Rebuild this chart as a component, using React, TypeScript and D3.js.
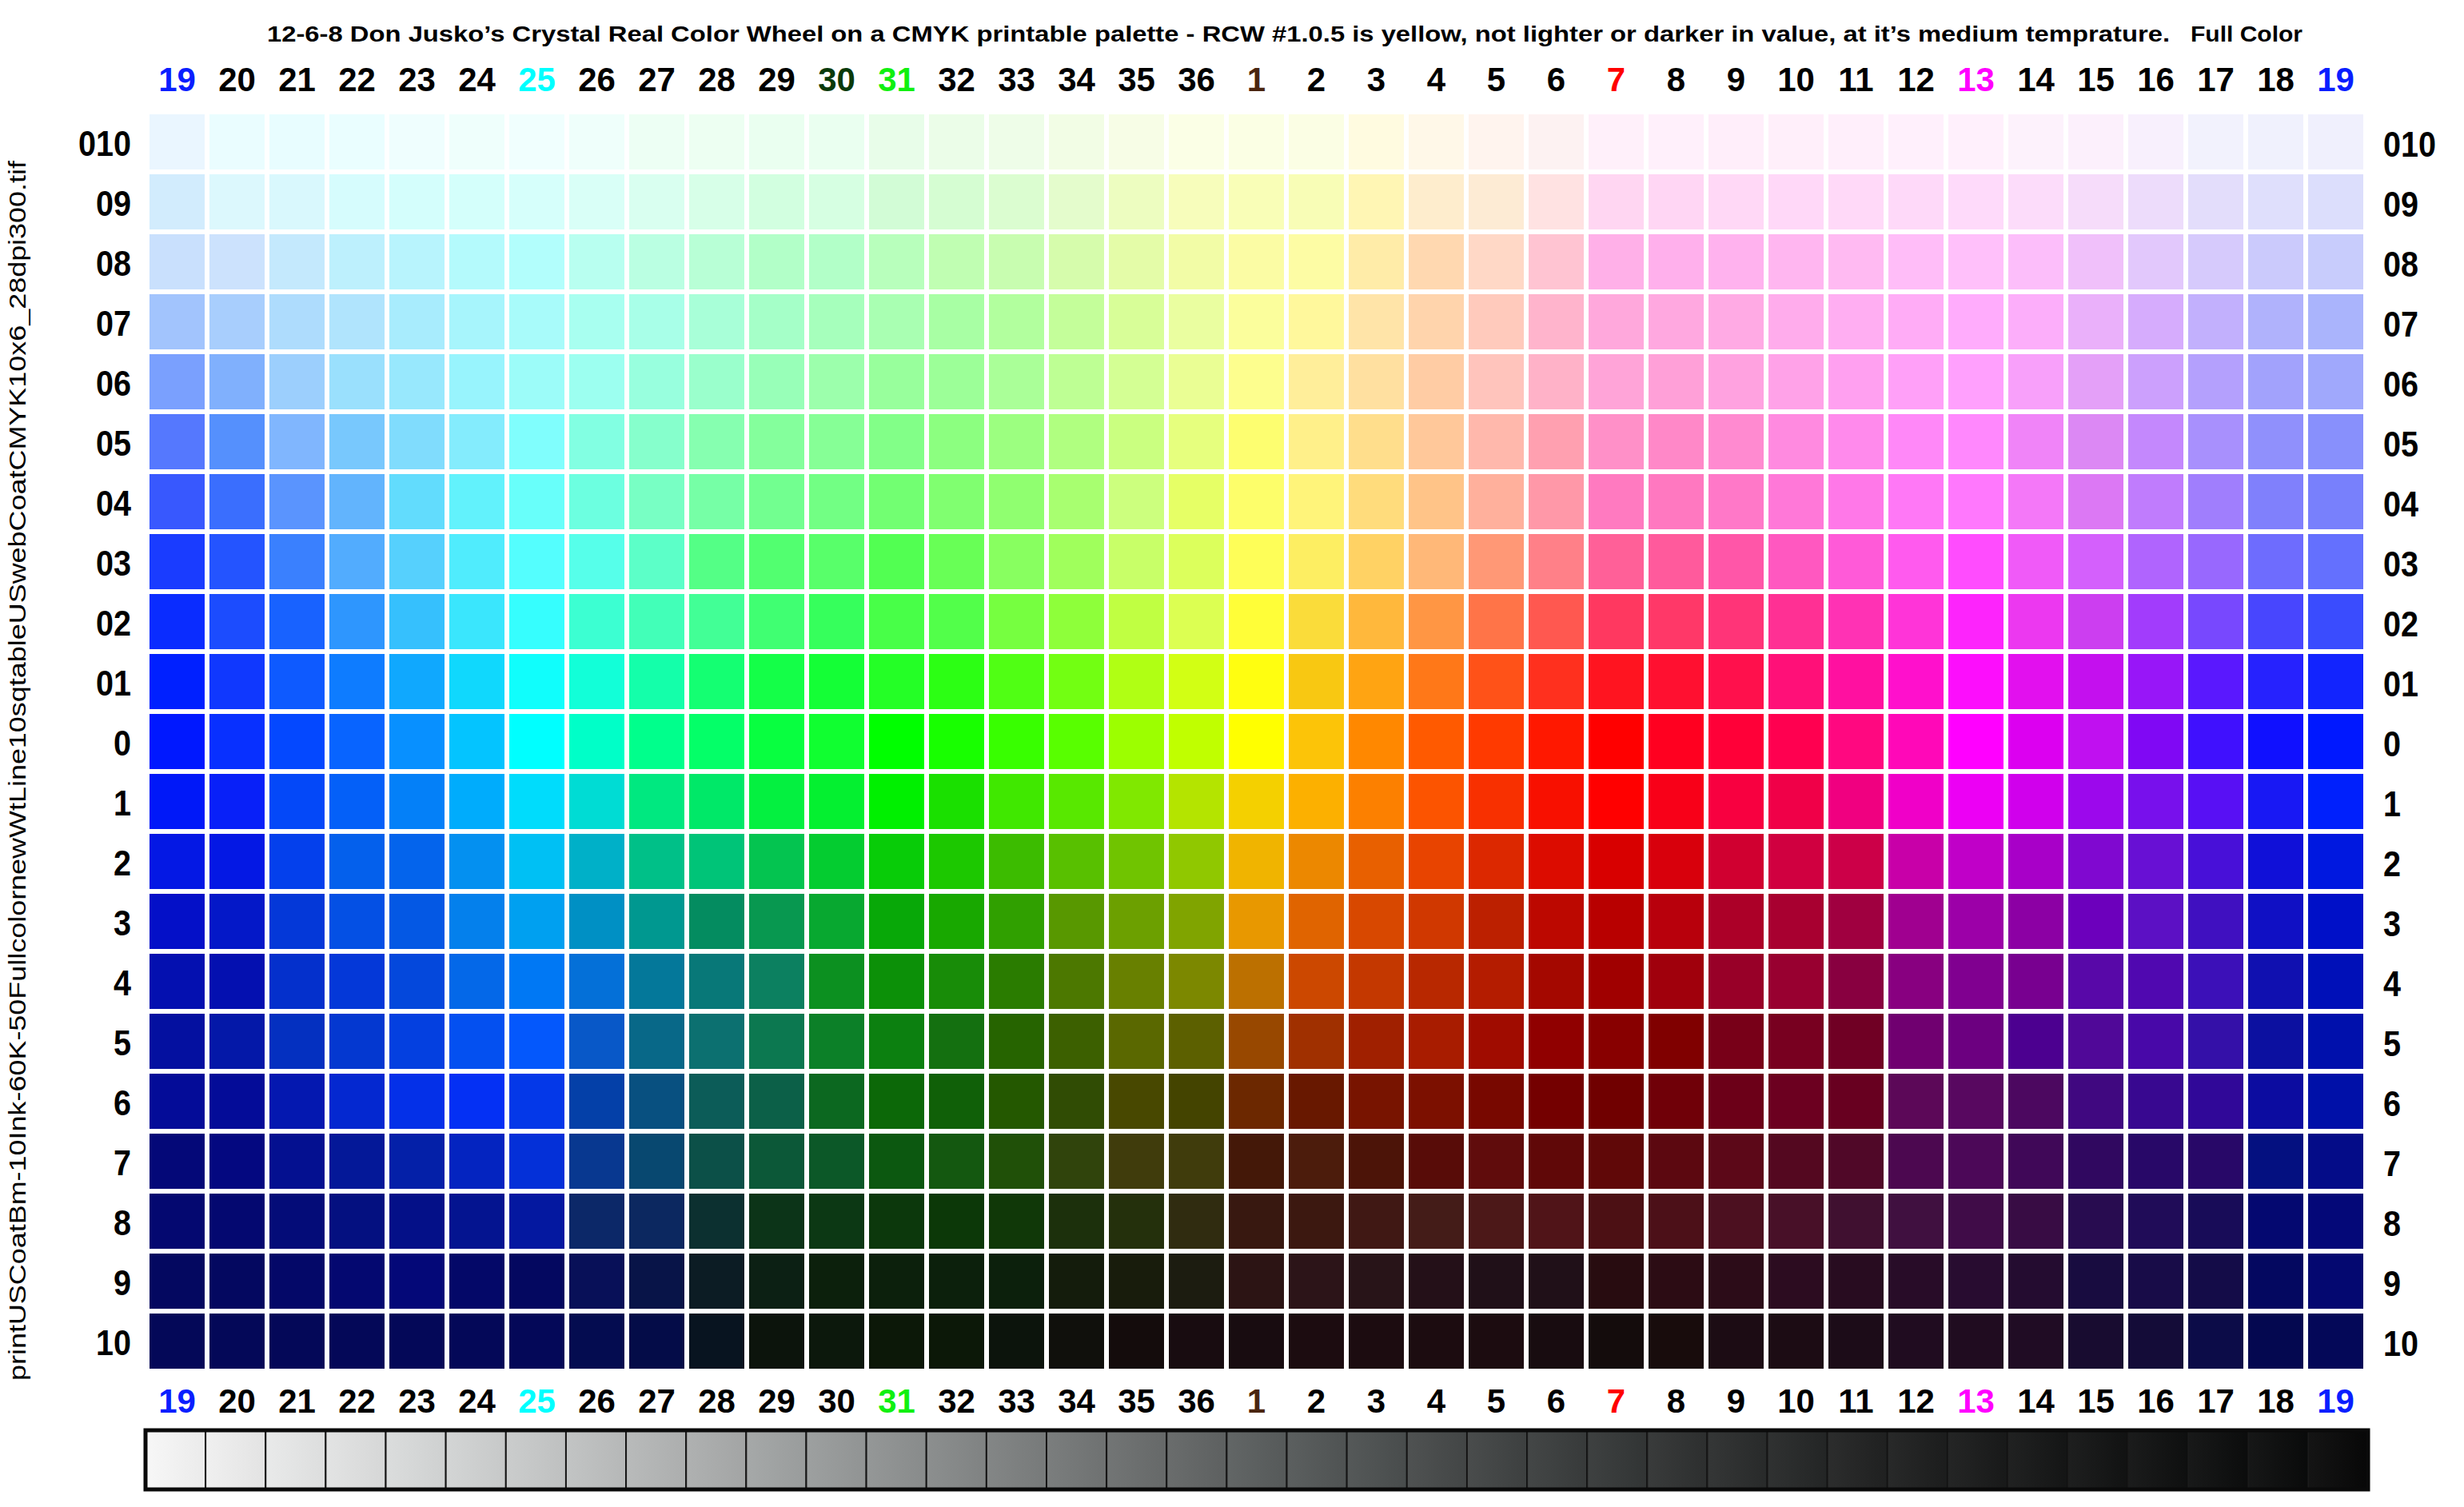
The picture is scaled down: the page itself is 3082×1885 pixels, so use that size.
import * as d3 from "d3";

// column labels (hue numbers of the wheel), left to right
const columnLabels = [
  "19", "20", "21", "22", "23", "24", "25", "26", "27", "28", "29", "30", "31", "32", "33", "34", "35", "36",
  "1", "2", "3", "4", "5", "6", "7", "8", "9", "10", "11", "12", "13", "14", "15", "16", "17", "18", "19",
];

const topLabelColors = [
  "#0a1eff", "#000", "#000", "#000", "#000", "#000", "#00ffff", "#000", "#000", "#000", "#000", "#0a3a0a", "#10f010", "#000", "#000", "#000", "#000", "#000",
  "#4a2510", "#000", "#000", "#000", "#000", "#000", "#ff0000", "#000", "#000", "#000", "#000", "#000", "#ff00ff", "#000", "#000", "#000", "#000", "#000", "#0a1eff",
];

const bottomLabelColors = [
  "#0a1eff", "#000", "#000", "#000", "#000", "#000", "#00ffff", "#000", "#000", "#000", "#000", "#000", "#10f010", "#000", "#000", "#000", "#000", "#000",
  "#4a2510", "#000", "#000", "#000", "#000", "#000", "#ff0000", "#000", "#000", "#000", "#000", "#000", "#ff00ff", "#000", "#000", "#000", "#000", "#000", "#0a1eff",
];

// row labels, lightest at the top, darkest at the bottom
const rowLabels = ["010", "09", "08", "07", "06", "05", "04", "03", "02", "01", "0", "1", "2", "3", "4", "5", "6", "7", "8", "9", "10"];

// cell colours per row (37 columns each)
const row010 = ["#eaf6ff", "#eafdff", "#e8fdff", "#eafeff", "#effefe", "#effffc", "#f0fffe", "#effffb", "#edfff4", "#edfff2", "#eafff0", "#eafff0", "#e8fde9", "#ebfde8", "#eefde8", "#f2fde5", "#f7fde6", "#fbffe6", "#fbffe4", "#fbfee4", "#fffbe0", "#fff8e8", "#fff4ee", "#fdf2f2", "#fff0fa", "#fff0fb", "#ffeefa", "#ffeffa", "#ffeffb", "#fff0fc", "#fff0fc", "#fdf2fc", "#fcf0fc", "#f8f0fd", "#f2f2fd", "#f0f1fd", "#f0f0fd"];
const row09 = ["#d2ecfd", "#dcf8fd", "#d9f8fd", "#d6fcfd", "#d4fefc", "#d4fffb", "#d6fffb", "#d9fff7", "#d9fff0", "#d7ffe8", "#d2ffe0", "#d6ffe2", "#d2fcd6", "#d5fdd2", "#dbfdd0", "#e4fccc", "#edfdc0", "#f7fdbb", "#f9feb7", "#f8fdb6", "#fff6b4", "#feedcd", "#fdebd4", "#ffe2e2", "#ffd6f2", "#ffd6f4", "#ffd8f6", "#ffd8f8", "#ffd9f8", "#fed9f9", "#fedafa", "#fcdcfa", "#f6dcfa", "#eddcfb", "#e3ddfb", "#dfdffc", "#dcdefc"];
const row08 = ["#c9e0fd", "#cce2fd", "#c4e9fd", "#bdf0fd", "#b8f4fd", "#b4fafc", "#b2fefc", "#b8fff0", "#baffe2", "#b8ffd6", "#b2ffc8", "#b2ffc8", "#b8ffbc", "#c0feb2", "#c8fdb0", "#d6fcac", "#e4fca8", "#f2fca6", "#fbfca4", "#fdfca4", "#ffeca8", "#ffd8b0", "#ffd8c6", "#ffc4d2", "#ffb0e8", "#ffb0ec", "#ffb2ee", "#ffb6f0", "#ffbaf2", "#ffbdf8", "#ffc0fa", "#fcbefa", "#f0c0fa", "#e2c8fc", "#d6cafc", "#cbcafc", "#c8ccfc"];
const row07 = ["#a2c4fd", "#a8cefd", "#aedcfd", "#b0e4fd", "#a8ecfd", "#a7f5fc", "#a8fbfa", "#a8fff0", "#a8ffe8", "#a8ffd8", "#a5ffc8", "#a6ffbc", "#a9ffb2", "#a8ffa4", "#b2ff9e", "#c4fe9a", "#d8fe98", "#eafea0", "#fbfe9c", "#fff89c", "#ffe4a8", "#ffd4ac", "#ffcabc", "#ffb4cc", "#ffa8dc", "#ffa8e0", "#ffaae4", "#ffacec", "#ffaef2", "#ffacf6", "#ffacfc", "#fcaefa", "#eab0fa", "#d6acfd", "#c2b0fd", "#b0b2fc", "#aab4fc"];
const row06 = ["#7aa0fe", "#80b0fd", "#9ccffd", "#9ae0fd", "#98e8fd", "#98f4fd", "#9cfcf9", "#9cfff0", "#98ffde", "#9affcc", "#98ffb8", "#9cffac", "#98ff9c", "#9cff98", "#aaff98", "#beff94", "#d4ff94", "#eafe94", "#fdfe8e", "#ffee9a", "#ffe0a0", "#ffcca4", "#ffc4bc", "#ffb2c8", "#ffa4d8", "#ffa0d8", "#ffa2e0", "#ffa2e8", "#ffa0f0", "#ffa0f8", "#ffa0fd", "#f8a0fa", "#e4a0f8", "#cca0fd", "#b4a0fd", "#a2a2fc", "#a0a8fc"];
const row05 = ["#5578fe", "#5590fd", "#80b6fe", "#78c8fd", "#80dcfd", "#84ecfd", "#80fefd", "#82ffe2", "#86ffcc", "#86ffb0", "#84ff9c", "#86ff96", "#82ff88", "#8cff80", "#9cff80", "#b0ff80", "#caff80", "#e6ff7e", "#fdfe70", "#fff08a", "#ffde8c", "#ffc89a", "#ffb8ac", "#ffa0b0", "#ff90c8", "#ff88c8", "#ff8ad0", "#ff8ae0", "#ff8aec", "#ff88f8", "#ff88fd", "#f084f8", "#dc88f4", "#c488fd", "#a890fd", "#9090fc", "#8890fc"];
const row04 = ["#3858fe", "#3a6efe", "#5a94fe", "#62b4fd", "#62dcfd", "#62f2fc", "#68fffa", "#6cffe0", "#78ffc4", "#76ffa6", "#72ff90", "#72ff84", "#72ff72", "#80ff70", "#90ff70", "#a8ff70", "#ccff7e", "#e6ff66", "#fdfe6a", "#fff47a", "#ffdc7c", "#ffc488", "#ffb09c", "#ff98a8", "#ff7ac0", "#ff78c0", "#ff78c8", "#ff78d8", "#ff78e8", "#ff78f6", "#ff78fd", "#f478f8", "#dc78f4", "#c07cfd", "#a07efd", "#8080fc", "#7880fc"];
const row03 = ["#1a3cff", "#2454ff", "#3a80fe", "#52acfe", "#56d0fd", "#50ecfd", "#54fefe", "#56ffea", "#5cffc8", "#54ff86", "#52ff70", "#58ff6a", "#52ff52", "#68ff56", "#88ff60", "#a0ff5c", "#c8ff68", "#dcff5c", "#fefe58", "#fdee62", "#ffd264", "#ffb878", "#ff9876", "#ff8088", "#ff6098", "#ff5a9c", "#ff56a8", "#ff58c0", "#ff5ad8", "#ff5aee", "#ff4cfe", "#f05af8", "#d460fc", "#b064fe", "#9868fe", "#6e6cfe", "#6470fe"];
const row02 = ["#0a2cff", "#1c4cfe", "#1862ff", "#2e96fe", "#36c0fd", "#3ae6fd", "#36fefe", "#3cffd2", "#42ffb8", "#42ff96", "#40ff72", "#36ff5c", "#48ff48", "#52ff4a", "#76ff40", "#8eff3a", "#c0ff42", "#dcff52", "#fffe38", "#fadc3a", "#ffb83c", "#ff9644", "#ff7448", "#ff5850", "#ff3860", "#ff3868", "#ff3478", "#ff3094", "#ff32b4", "#ff34d8", "#fd24fc", "#ec38f0", "#cc3ef0", "#a23cfc", "#7848fe", "#4846fe", "#3a4cfe"];
const row01 = ["#0020ff", "#1038fe", "#0e5aff", "#0e7cff", "#10a8fe", "#10d8fd", "#10fefc", "#12ffd8", "#14ffaa", "#14ff72", "#14ff48", "#14ff36", "#24ff26", "#2cff14", "#50ff14", "#72ff12", "#b0ff14", "#d2ff14", "#fffe10", "#f8c812", "#ffa412", "#ff7818", "#ff5218", "#ff301e", "#ff1420", "#ff1030", "#ff104c", "#ff1078", "#ff10a0", "#ff10cc", "#fc0efc", "#e210ee", "#c410ee", "#9816f8", "#5a18fe", "#2622fe", "#1224fe"];
const row0 = ["#0018ff", "#0830ff", "#0448ff", "#0864ff", "#0890ff", "#04c4ff", "#00ffff", "#00ffc8", "#00ff8c", "#04ff68", "#08ff40", "#10ff30", "#00ff00", "#18ff00", "#38ff00", "#58ff00", "#9cff00", "#c0ff00", "#ffff00", "#fcc408", "#ff8800", "#ff5a00", "#ff3a00", "#ff1800", "#ff0000", "#ff0020", "#ff0038", "#ff0050", "#ff0880", "#ff08b8", "#ff00ff", "#dc00f0", "#c010f0", "#8008f4", "#4010fe", "#1010ff", "#0018ff"];
const row1 = ["#0018f8", "#0820f8", "#0448f8", "#0460f8", "#0480f8", "#00acfc", "#00dcfc", "#00dcd4", "#00e880", "#00e868", "#04f040", "#04f030", "#00f000", "#1ae000", "#40e800", "#58e800", "#80e800", "#b4e400", "#f4d000", "#fcb000", "#fc8000", "#fc5400", "#f83000", "#f81000", "#ff0000", "#f80018", "#f80040", "#f00048", "#f00080", "#f000c8", "#ec00f4", "#d000ec", "#9c08ec", "#7810ec", "#5810f4", "#1818f4", "#0020fc"];
const row2 = ["#0418e4", "#0418e4", "#0440ec", "#0460ec", "#0464ec", "#0490f0", "#00c0f4", "#00b0c8", "#00c088", "#00c478", "#04c450", "#04cc30", "#08cc08", "#1cc800", "#3cbc00", "#58c000", "#70c400", "#90c800", "#f0b400", "#ec8800", "#e86000", "#e84400", "#dc2800", "#dc0c00", "#d80000", "#d8000c", "#d00030", "#d00040", "#cc0048", "#c800a8", "#c000c8", "#a800c8", "#8008d0", "#6810d4", "#4810d8", "#1010d8", "#0018e0"];
const row3 = ["#0410c8", "#0418c8", "#0438d8", "#0450e4", "#0458e4", "#0480ec", "#00a0f0", "#0090c4", "#009890", "#048c60", "#089850", "#08a830", "#08a808", "#18a800", "#30a000", "#589800", "#6ca000", "#80a400", "#e89800", "#e06400", "#d84800", "#d03800", "#bc2000", "#bc0800", "#b80000", "#b8000c", "#ac0028", "#a80030", "#a00040", "#a00090", "#9c00a8", "#8c00a4", "#6c00bc", "#5c10c4", "#4010c0", "#1010c4", "#0010c8"];
const row4 = ["#0410b0", "#0410b0", "#0430cc", "#0438d8", "#0448dc", "#0468e8", "#0078f4", "#0470d8", "#04789a", "#087878", "#0c8060", "#0c9020", "#0c9008", "#188c08", "#2a7c00", "#4c7800", "#688000", "#7c8800", "#bc7000", "#cc4800", "#c43800", "#b82800", "#b41c00", "#a40800", "#a00000", "#a0000c", "#980028", "#980030", "#880040", "#880080", "#800090", "#780090", "#5808a8", "#5008b0", "#3c10b8", "#1010b0", "#0010b8"];
const row5 = ["#0410a0", "#0418a8", "#0430c0", "#0438d0", "#0440e0", "#0450f0", "#0458fc", "#0858c8", "#086888", "#0c7070", "#0c7850", "#0c8028", "#0c8010", "#147010", "#266400", "#3c6000", "#5a6800", "#5c6000", "#984800", "#a03000", "#a02000", "#a81c00", "#a00c00", "#900000", "#880000", "#800000", "#780018", "#780020", "#700024", "#700070", "#6c0080", "#4c0090", "#500898", "#4808a8", "#3410a8", "#0c10a0", "#0010ac"];
const row6 = ["#040c98", "#040c98", "#0418b0", "#0428d0", "#0430e8", "#0430f4", "#0438e8", "#0440a8", "#085080", "#0c5c58", "#0c6048", "#0c6820", "#0c6808", "#106008", "#245800", "#304c04", "#484800", "#444400", "#6c2800", "#681800", "#781400", "#7c1000", "#780800", "#740000", "#700000", "#700008", "#6c0018", "#6c0020", "#680020", "#5c0858", "#580860", "#4c0860", "#400880", "#380890", "#300898", "#0c0ca0", "#0010a8"];
const row7 = ["#040878", "#040880", "#041090", "#041898", "#0420a8", "#0424c0", "#0430d8", "#083890", "#084870", "#0c5048", "#0c5838", "#0c5828", "#0c5810", "#145810", "#205008", "#30440c", "#403c0c", "#403c0c", "#441808", "#4c1c0c", "#4c1408", "#580c08", "#600c0c", "#600808", "#600808", "#5c0810", "#5c0818", "#540820", "#500828", "#4c0850", "#4c0858", "#400858", "#300860", "#280868", "#280868", "#041080", "#040c88"];
const row8 = ["#040870", "#040870", "#040c78", "#041080", "#041088", "#041490", "#0418a0", "#0c2868", "#0c2860", "#0c3030", "#0c3418", "#0c3814", "#0c380c", "#0c3808", "#103808", "#1c300c", "#24300c", "#302c10", "#381810", "#3c1810", "#401814", "#441c18", "#4c1818", "#501418", "#4c1014", "#4c1018", "#4c1020", "#481028", "#401030", "#401040", "#400c48", "#380c44", "#280c50", "#200c58", "#180c58", "#040870", "#040878"];
const row9 = ["#040860", "#040860", "#040868", "#040870", "#040878", "#040868", "#040860", "#081058", "#081448", "#0c1c24", "#0c2014", "#0c200c", "#0c200c", "#0c200c", "#0c200c", "#141c0c", "#181c0c", "#1c1c10", "#2c1414", "#2c1418", "#281418", "#241018", "#201018", "#201018", "#280c10", "#2c0c14", "#2c0c18", "#2c0c20", "#280c20", "#280c28", "#280c30", "#240c30", "#180c40", "#180c48", "#140c48", "#040860", "#040870"];
const row10 = ["#040858", "#040858", "#040858", "#040858", "#040858", "#040858", "#040858", "#040c50", "#040c48", "#081420", "#0c140c", "#0c180c", "#0c1808", "#0c1808", "#0c140c", "#10100c", "#140c0c", "#180c10", "#180c10", "#1c0c10", "#1c0c10", "#1c0c10", "#1c0c10", "#180c10", "#140c0c", "#180c0c", "#1c0c14", "#1c0c14", "#1c0c18", "#200c20", "#200c20", "#200c24", "#180c30", "#140c38", "#0c0c48", "#040850", "#040858"];

const rowColors = [row010, row09, row08, row07, row06, row05, row04, row03, row02, row01, row0, row1, row2, row3, row4, row5, row6, row7, row8, row9, row10];

// grey value scale along the bottom (37 steps, white to black)
const greySteps = [
  "#f7f7f7", "#efefef", "#e8e9e9", "#e1e2e2", "#d9dbdb", "#d1d3d3", "#c8caca", "#bfc1c1", "#b5b7b7", "#abadad",
  "#a1a4a4", "#989b9b", "#8f9292", "#868989", "#7d8080", "#747777", "#6b6e6e", "#626565", "#5a5e5e", "#535757",
  "#4c5050", "#464949", "#404343", "#3a3d3d", "#343737", "#2f3131", "#2a2c2c", "#252727", "#212222", "#1d1e1e",
  "#191a1a", "#151616", "#121313", "#0f1010", "#0c0d0d", "#0a0b0b", "#080808",
];

const title =
  "12-6-8  Don Jusko\u2019s Crystal Real Color Wheel on a CMYK printable palette - RCW #1.0.5 is yellow, not lighter or darker in value, at it\u2019s medium temprature.";
const sideNote = "printUSCoatBm-10Ink-60K-50FullcolornewWtLine10sqtableUSwebCoatCMYK10x6_28dpi300.tif";

const W = 3082;
const H = 1885;
const FONT = "'Liberation Sans', Arial, Helvetica, sans-serif";

export default function App() {
  const step = 75;
  const gap = 6;
  const gridLeft = 187;
  const gridTop = 143;

  const x = d3
    .scaleBand<number>()
    .domain(d3.range(columnLabels.length))
    .range([gridLeft, gridLeft + step * (columnLabels.length - gap / step)])
    .paddingInner(gap / step)
    .paddingOuter(0);

  const y = d3
    .scaleBand<number>()
    .domain(d3.range(rowLabels.length))
    .range([gridTop, gridTop + step * (rowLabels.length - gap / step)])
    .paddingInner(gap / step)
    .paddingOuter(0);

  const gx = d3
    .scaleBand<number>()
    .domain(d3.range(greySteps.length))
    .range([182, 2962])
    .padding(0);

  const barTop = 1789;
  const barH = 74;

  return (
    <svg
      width={W}
      height={H}
      viewBox={`0 0 ${W} ${H}`}
      style={{ position: "absolute", left: 0, top: 0, background: "#fff" }}
      fontFamily={FONT}
    >
      <defs>
        <linearGradient id="greySheen" x1="0" x2="1" y1="0" y2="0">
          <stop offset="0" stopColor="#fff" stopOpacity={0.05} />
          <stop offset="1" stopColor="#000" stopOpacity={0.05} />
        </linearGradient>
      </defs>
      <rect width={W} height={H} fill="#fff" />

      <text x={334} y={52} fontSize={28} fontWeight="bold" textLength={2380} lengthAdjust="spacingAndGlyphs">
        {title}
      </text>
      <text x={2740} y={52} fontSize={28} fontWeight="bold" textLength={140} lengthAdjust="spacingAndGlyphs">
        Full Color
      </text>

      <text
        transform="translate(32,1727) rotate(-90)"
        fontSize={30}
        textLength={1526}
        lengthAdjust="spacingAndGlyphs"
        fill="#000"
      >
        {sideNote}
      </text>

      {columnLabels.map((lab, i) => (
        <g key={`cl${i}`} fontSize={42} fontWeight="bold" textAnchor="middle">
          <text x={(x(i) ?? 0) + x.bandwidth() / 2} y={114} fill={topLabelColors[i]}>
            {lab}
          </text>
          <text x={(x(i) ?? 0) + x.bandwidth() / 2} y={1767} fill={bottomLabelColors[i]}>
            {lab}
          </text>
        </g>
      ))}

      {rowLabels.map((lab, r) => (
        <g key={`rl${r}`} fontSize={44} fontWeight="bold">
          <text
            x={164}
            y={(y(r) ?? 0) + y.bandwidth() / 2 + 17}
            textAnchor="end"
            textLength={lab.length * 22}
            lengthAdjust="spacingAndGlyphs"
          >
            {lab}
          </text>
          <text
            x={2981}
            y={(y(r) ?? 0) + y.bandwidth() / 2 + 18}
            textAnchor="start"
            textLength={lab.length * 22}
            lengthAdjust="spacingAndGlyphs"
          >
            {lab}
          </text>
        </g>
      ))}

      {rowColors.map((row, r) =>
        row.map((c, i) => (
          <rect
            key={`c${r}-${i}`}
            x={x(i)}
            y={y(r)}
            width={x.bandwidth()}
            height={y.bandwidth()}
            fill={c}
          />
        ))
      )}

      <g>
        {greySteps.map((g, i) => (
          <g key={`g${i}`}>
            <rect x={gx(i)} y={barTop} width={gx.bandwidth()} height={barH} fill={g} stroke="#111" strokeWidth={2} />
            <rect x={gx(i)} y={barTop} width={gx.bandwidth()} height={barH} fill="url(#greySheen)" />
          </g>
        ))}
        <rect x={182} y={barTop} width={2780} height={barH} fill="none" stroke="#0a0a0a" strokeWidth={5} />
      </g>
    </svg>
  );
}
